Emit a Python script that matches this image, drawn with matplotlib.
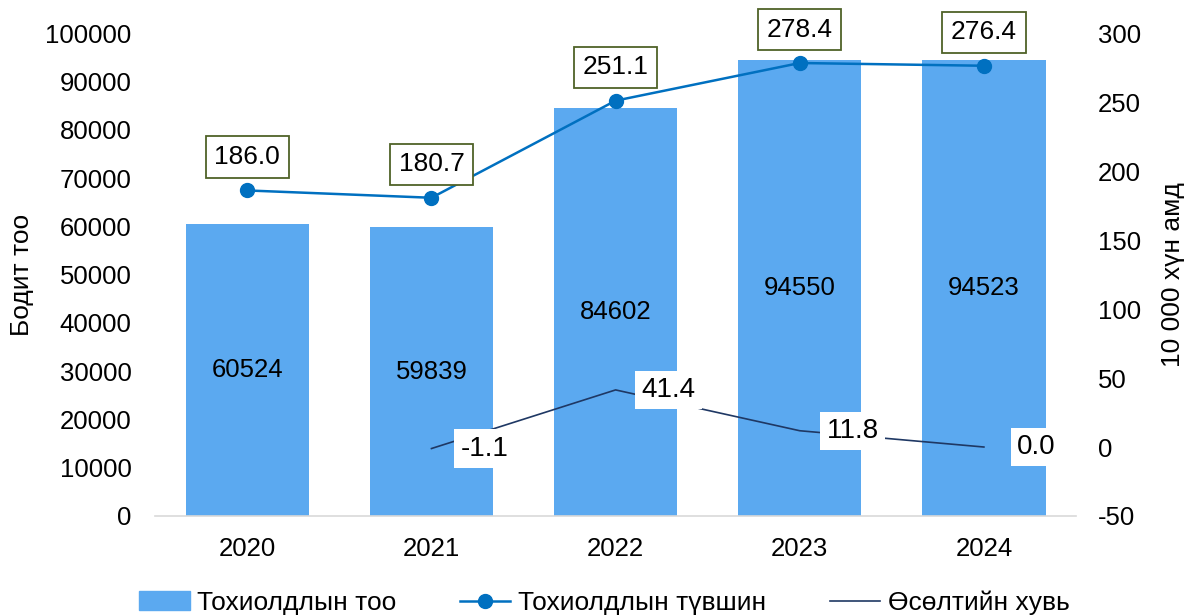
import matplotlib.pyplot as plt
from matplotlib.patches import Patch
from matplotlib.lines import Line2D

plt.rcParams['font.family'] = ['Liberation Sans', 'DejaVu Sans']
plt.rcParams['axes.unicode_minus'] = False

years = ['2020', '2021', '2022', '2023', '2024']
cases = [60524, 59839, 84602, 94550, 94523]
rate = [186.0, 180.7, 251.1, 278.4, 276.4]
growth_years = ['2021', '2022', '2023', '2024']
growth = [-1.1, 41.4, 11.8, 0.0]

bar_color = '#5BA9F0'
rate_color = '#0070C0'
growth_color = '#1F3864'

fig = plt.figure(figsize=(11.85, 6.15), dpi=100)
ax = fig.add_axes([0.131, 0.161, 0.777, 0.785])
x = list(range(len(years)))
ax.bar(x, cases, width=0.67, color=bar_color, zorder=2)
for xi, v in zip(x, cases):
    ax.text(xi, v / 2, str(v), ha='center', va='center', fontsize=18.5)
ax.set_ylim(0, 100000)
ax.set_yticks(range(0, 100001, 10000))
ax.set_xlim(-0.5, len(years) - 0.5)
ax.set_xticks(x)
ax.set_xticklabels(years)
ax.set_ylabel('Бодит тоо', fontsize=19, labelpad=8)
ax.tick_params(labelsize=18.5, length=0)
ax.tick_params(axis='y', pad=17)
ax.tick_params(axis='x', pad=15)
for s in ax.spines.values():
    s.set_visible(False)
ax.spines['bottom'].set_visible(True)
ax.spines['bottom'].set_color('#D9D9D9')
ax.spines['bottom'].set_linewidth(1.2)

ax2 = ax.twinx()
ax2.plot(x, rate, color=rate_color, marker='o', markersize=10, linewidth=1.8, zorder=3)
for xi, v in zip(x, rate):
    ax2.annotate(f'{v:.1f}', (xi, v), xytext=(0, 24), textcoords='offset points',
                 ha='center', va='center', fontsize=19,
                 bbox=dict(boxstyle='square,pad=0.33', fc='white', ec='#4F6228', lw=1.3))
gx = [years.index(g) for g in growth_years]
ax2.plot(gx, growth, color=growth_color, linewidth=1.2, zorder=3)
for xi, v in zip(gx, growth):
    ax2.annotate(f'{v:.1f}', (xi, v), xytext=(38, 0), textcoords='offset points',
                 ha='center', va='center', fontsize=20, zorder=4,
                 bbox=dict(boxstyle='square,pad=0.22', fc='white', ec='none'))
ax2.set_ylim(-50, 300)
ax2.set_yticks(range(-50, 301, 50))
ax2.set_ylabel('10 000 хүн амд', fontsize=19, labelpad=14)
ax2.tick_params(labelsize=18.5, length=0, pad=16)
for s in ax2.spines.values():
    s.set_visible(False)

handles = [
    Patch(color=bar_color),
    Line2D([0], [0], color=rate_color, marker='o', markersize=10, linewidth=1.8),
    Line2D([0], [0], color=growth_color, linewidth=1.2),
]
labels = ['Тохиолдлын тоо', 'Тохиолдлын түвшин', 'Өсөлтийн хувь']
fig.legend(handles, labels, loc='center', bbox_to_anchor=(0.51, 0.02), ncol=3,
           frameon=False, fontsize=19, handlelength=1.9, columnspacing=2.4, handletextpad=0.3)

fig.savefig('out.png', dpi=100)
